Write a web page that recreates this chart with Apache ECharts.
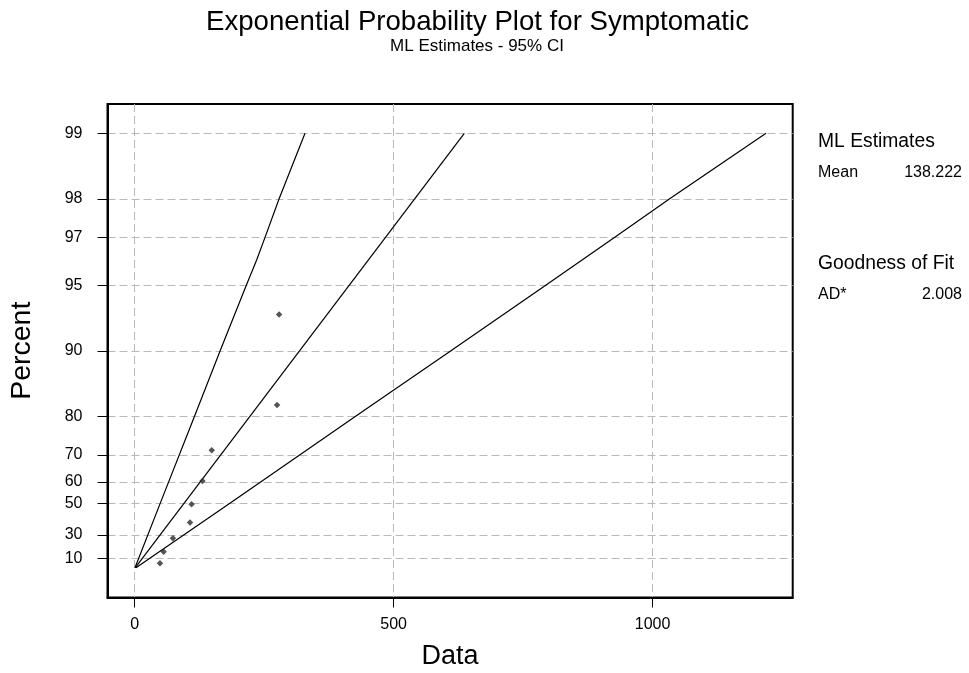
<!DOCTYPE html>
<html><head><meta charset="utf-8">
<script src="https://cdn.jsdelivr.net/npm/echarts@6/dist/echarts.min.js"></script>
<style>html,body{margin:0;padding:0;background:#fff}#c{width:969px;height:673px}</style>
</head><body><div id="c"></div>
<script>
// ---- data ----
const yTickPercents = [10, 30, 50, 60, 70, 80, 90, 95, 97, 98, 99];
const xTicks = [0, 500, 1000];
const dataX   = [49, 56, 74, 107, 110, 131, 149, 275, 279];
const dataPct = [5.6, 16.3, 27.6, 38.6, 49.4, 60.4, 71.4, 82.3, 93.2];
const fitPct  = [1, 99];
const fitX    = [1.4, 636.5];
const lowerPct = [1, 10, 50, 80, 90, 95, 96.2, 97, 98, 99];
const lowerX   = [0.7, 7.6, 49.6, 115.5, 165, 215.5, 236, 252, 279, 329];
const upperPct = [1, 10, 50, 80, 90, 95, 97, 98, 99];
const upperX   = [2.7, 28, 184, 426, 610, 793, 927, 1033, 1219];
const meanEst = '138.222';
const adStat = '2.008';

// exponential probability scale: t = -ln(1 - p)
const tf = p => -Math.log(1 - p / 100);
const pair = (xs, ps) => xs.map((x, i) => [x, tf(ps[i])]);
const yTicks = yTickPercents.map(tf);
const FONT = 'Liberation Sans, Arial, sans-serif';

const chart = echarts.init(document.getElementById('c'), null, {renderer: 'canvas'});
chart.setOption({
  animation: false,
  backgroundColor: '#fff',
  grid: {left: 107.5, right: 176.3, top: 104, bottom: 75.5, show: true,
         borderColor: '#000', borderWidth: 2, backgroundColor: 'transparent',
         outerBoundsMode: 'none'},
  xAxis: {
    type: 'value', min: -52.3, max: 1270.5,
    axisLine: {show: true, onZero: false, lineStyle: {color: '#000', width: 2}},
    axisTick: {show: true, length: 10, customValues: xTicks, lineStyle: {color: '#000', width: 1}},
    axisLabel: {customValues: xTicks, color: '#000', fontSize: 16, fontFamily: FONT, margin: 19,
                formatter: v => String(v)},
    splitLine: {show: true, lineStyle: {color: '#b8b8b8', width: 1, type: [8, 4]}},
    name: 'Data', nameLocation: 'middle', nameGap: 46,
    nameTextStyle: {color: '#000', fontSize: 27, fontFamily: FONT}
  },
  yAxis: {
    type: 'value', min: -0.305, max: 4.915,
    axisLine: {show: true, onZero: false, lineStyle: {color: '#000', width: 2}},
    axisTick: {show: true, length: 10, customValues: yTicks, lineStyle: {color: '#000', width: 1}},
    axisLabel: {customValues: yTicks, color: '#000', fontSize: 16, fontFamily: FONT, margin: 25,
                formatter: v => String(Math.round(100 * (1 - Math.exp(-v))))},
    splitLine: {show: true, lineStyle: {color: '#b8b8b8', width: 1, type: [8, 4]}},
    name: 'Percent', nameLocation: 'middle', nameGap: 71,
    nameTextStyle: {color: '#000', fontSize: 28.5, fontFamily: FONT}
  },
  series: [
    {type: 'line', data: pair(lowerX, lowerPct), showSymbol: false, silent: true,
     lineStyle: {color: '#000', width: 1.2}},
    {type: 'line', data: pair(fitX, fitPct), showSymbol: false, silent: true,
     lineStyle: {color: '#000', width: 1.2}},
    {type: 'line', data: pair(upperX, upperPct), showSymbol: false, silent: true,
     lineStyle: {color: '#000', width: 1.2}},
    {type: 'scatter', data: pair(dataX, dataPct), symbol: 'diamond', symbolSize: 6.5,
     itemStyle: {color: '#2a2a2a'}, z: 5}
  ],
  graphic: [
    {type: 'text', x: 477.5, y: 22, style: {text: 'Exponential Probability Plot for Symptomatic',
      fontSize: 27.6, fontFamily: FONT, fill: '#000', align: 'center', verticalAlign: 'middle'}},
    {type: 'text', x: 477, y: 46, style: {text: 'ML Estimates - 95% CI',
      fontSize: 17, fontFamily: FONT, fill: '#000', align: 'center', verticalAlign: 'middle'}},
    {type: 'text', x: 818, y: 142, style: {text: 'ML Estimates', fontSize: 19.3, fontFamily: FONT,
      fill: '#000', align: 'left', verticalAlign: 'middle'}},
    {type: 'text', x: 818, y: 173, style: {text: 'Mean', fontSize: 16, fontFamily: FONT,
      fill: '#000', align: 'left', verticalAlign: 'middle'}},
    {type: 'text', x: 962, y: 173, style: {text: meanEst, fontSize: 16, fontFamily: FONT,
      fill: '#000', align: 'right', verticalAlign: 'middle'}},
    {type: 'text', x: 818, y: 264, style: {text: 'Goodness of Fit', fontSize: 19.3, fontFamily: FONT,
      fill: '#000', align: 'left', verticalAlign: 'middle'}},
    {type: 'text', x: 818, y: 295, style: {text: 'AD*', fontSize: 16, fontFamily: FONT,
      fill: '#000', align: 'left', verticalAlign: 'middle'}},
    {type: 'text', x: 962, y: 295, style: {text: adStat, fontSize: 16, fontFamily: FONT,
      fill: '#000', align: 'right', verticalAlign: 'middle'}}
  ]
});
</script></body></html>
